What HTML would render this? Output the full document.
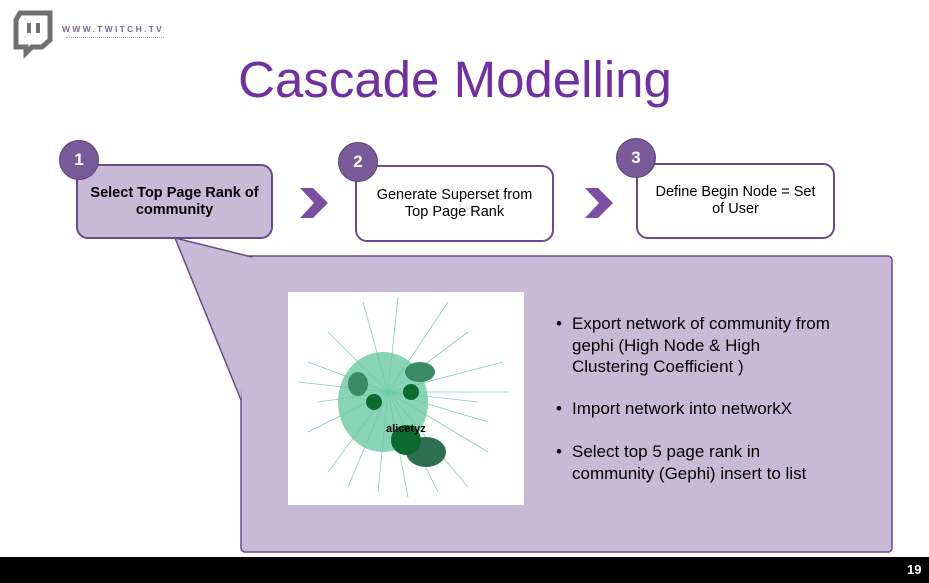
<!DOCTYPE html>
<html><head><style>
body{margin:0;width:929px;height:583px;position:relative;overflow:hidden;background:#fff;font-family:"Liberation Sans",sans-serif}
.a{position:absolute}
.box{position:absolute;border:2px solid #6a4b8c;border-radius:12px;box-sizing:border-box;display:flex;align-items:center;justify-content:center;text-align:center;font-size:14.5px;color:#000;line-height:17px}
.c{position:absolute;width:40px;height:40px;border-radius:50%;background:#7b5a9a;border:1.5px solid #5a3e7a;color:#fff;font-weight:bold;font-size:17px;display:flex;align-items:center;justify-content:center;box-sizing:border-box}
.b{position:absolute;left:556px;font-size:17px;line-height:21.5px;color:#000}
.b span{position:absolute;left:16px;width:320px;white-space:nowrap}
</style></head><body>
<svg class="a" style="left:0;top:0" width="929" height="583">
<path d="M20 13 H50 V40 L42 47 H32 L26 53 V47 H16 V20 Z" fill="none" stroke="#707070" stroke-width="5"/>
<rect x="27" y="23" width="4" height="10" fill="#707070"/><rect x="36" y="23" width="4" height="10" fill="#707070"/>
<rect x="241" y="256" width="651" height="296" rx="4" fill="#c8bad6" stroke="#6a4b8c" stroke-width="1.5"/>
<polygon points="175,238 252,257 241,400" fill="#c8bad6"/>
<polyline points="252,257 175,238 241,400" fill="none" stroke="#6a4b8c" stroke-width="1.5"/>
<polygon points="300,188 313,188 328,203 313,218 300,218 314,203" fill="#7b4fa0"/>
<polygon points="585,188 598,188 613,203 598,218 585,218 599,203" fill="#7b4fa0"/>
<rect x="0" y="557" width="929" height="26" fill="#000"/>
</svg>
<div class="a" style="left:62px;top:24px;font-size:8.5px;font-weight:bold;letter-spacing:2.3px;color:#7a6a94">WWW.TWITCH.TV</div>
<div class="a" style="left:66px;top:37px;width:98px;border-top:1px dotted #aaa"></div>
<div class="a" style="left:0;width:910px;top:50px;text-align:center;font-size:51px;color:#7030a0">Cascade Modelling</div>
<div class="box" style="left:76px;top:164px;width:197px;height:75px;background:#c8bad6;font-weight:bold">Select Top Page Rank of<br>community</div>
<div class="box" style="left:355px;top:165px;width:199px;height:77px;background:#fff">Generate Superset from<br>Top Page Rank</div>
<div class="box" style="left:636px;top:163px;width:199px;height:76px;background:#fff">Define Begin Node = Set<br>of User</div>
<div class="c" style="left:59px;top:140px">1</div>
<div class="c" style="left:338px;top:142px">2</div>
<div class="c" style="left:616px;top:138px">3</div>
<div class="a" style="left:288px;top:292px;width:236px;height:213px;background:#fff">
<svg width="236" height="213">
<g stroke="#7fd0b0" stroke-width="0.8">
<line x1="100" y1="100" x2="20" y2="70"/><line x1="100" y1="100" x2="110" y2="5"/><line x1="100" y1="100" x2="215" y2="70"/><line x1="100" y1="100" x2="200" y2="160"/><line x1="100" y1="100" x2="60" y2="195"/><line x1="100" y1="100" x2="150" y2="200"/><line x1="100" y1="100" x2="20" y2="140"/><line x1="100" y1="100" x2="180" y2="40"/><line x1="100" y1="100" x2="90" y2="200"/><line x1="100" y1="100" x2="40" y2="40"/><line x1="100" y1="100" x2="190" y2="110"/><line x1="100" y1="100" x2="30" y2="110"/>
<line x1="100" y1="100" x2="75" y2="10"/><line x1="100" y1="100" x2="160" y2="10"/><line x1="100" y1="100" x2="220" y2="100"/><line x1="100" y1="100" x2="10" y2="90"/><line x1="100" y1="100" x2="40" y2="180"/><line x1="100" y1="100" x2="180" y2="195"/><line x1="100" y1="100" x2="120" y2="205"/><line x1="100" y1="100" x2="200" y2="130"/>
</g>
<ellipse cx="95" cy="110" rx="45" ry="50" fill="#6cc8a4" opacity="0.8"/>
<ellipse cx="132" cy="80" rx="15" ry="10" fill="#3a8a64"/>
<ellipse cx="70" cy="92" rx="10" ry="12" fill="#3a8a64"/>
<ellipse cx="138" cy="160" rx="20" ry="15" fill="#2d6e50"/>
<circle cx="118" cy="148" r="15" fill="#0a6a30"/>
<circle cx="86" cy="110" r="8" fill="#0a6a30"/>
<circle cx="123" cy="100" r="8" fill="#0a6a30"/>
<text x="98" y="140" font-size="11" font-weight="bold" font-family="Liberation Sans">alicetyz</text>
</svg></div>
<div class="b" style="top:313px">•<span>Export network of community from<br>gephi (High Node &amp; High<br>Clustering Coefficient )</span></div>
<div class="b" style="top:398px">•<span>Import network into networkX</span></div>
<div class="b" style="top:441px">•<span>Select top 5 page rank in<br>community (Gephi) insert to list</span></div>
<div class="a" style="left:907px;top:562px;color:#fff;font-size:13px;font-weight:bold">19</div>
</body></html>
